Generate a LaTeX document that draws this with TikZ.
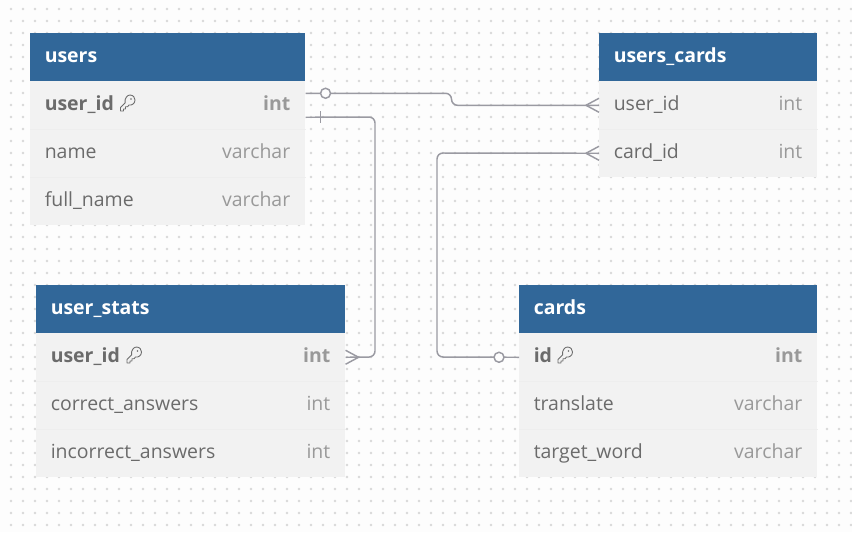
\documentclass[tikz,border=0pt]{standalone}
\usepackage{fontspec}
\setmainfont{Open Sans}
\definecolor{canvas}{RGB}{253,253,253}
\definecolor{griddot}{RGB}{216,216,216}
\definecolor{tablehead}{RGB}{49,103,153}
\definecolor{tablerow}{RGB}{242,242,242}
\definecolor{rowline}{RGB}{238,238,238}
\definecolor{colname}{RGB}{107,107,107}
\definecolor{coltype}{RGB}{153,153,153}
\definecolor{relline}{RGB}{154,154,162}
\tikzset{
  headbox/.style={fill=tablehead, anchor=north west, minimum height=36pt, inner sep=0pt},
  rowbox/.style={fill=tablerow, anchor=north west, minimum height=36pt, inner sep=0pt},
  headtext/.style={text=white, anchor=base west, inner sep=0pt, font=\fontsize{14.6pt}{16pt}\selectfont\bfseries},
  nametext/.style={text=colname, anchor=base west, inner sep=0pt, font=\fontsize{14.6pt}{16pt}\selectfont},
  typetext/.style={text=coltype, anchor=base east, inner sep=0pt, font=\fontsize{14.6pt}{16pt}\selectfont},
  keytext/.style={font=\fontsize{14.6pt}{16pt}\selectfont\bfseries},
  relation/.style={draw=relline, line width=1.1pt, rounded corners=4.5pt},
  relmark/.style={draw=relline, line width=1.1pt},
  optional/.style={circle, draw=relline, fill=canvas, line width=1.1pt, minimum size=7.5pt, inner sep=0pt},
  keyicon/.pic={
    \draw[colname, line width=0.65pt, line join=round] (-7,4.5) -- (-2.4,0) .. controls (-3.2,-5) and (0,-8) .. (2.5,-8) .. controls (6,-8) and (7.5,-5) .. (7.5,-3) .. controls (7.5,0.5) and (4.5,2.5) .. (1.5,2) -- (0,3.8) -- (-2,3.8) -- (-2,6) -- (-4,6) -- (-4,8) -- (-7,8) -- cycle;
    \fill[colname] (3.5,-4) circle[radius=0.6pt];
  }
}
\begin{document}
\begin{tikzpicture}[x=0.75pt, y=-0.75pt]
\useasboundingbox (0,0) rectangle (852,532);
\fill[canvas] (0,0) rectangle (852,532);
\foreach \x in {11,23,...,851}
  \foreach \y in {9,21,...,525}
    \fill[griddot] (\x,\y) circle[radius=1.1pt];

\node[headbox, minimum width=206.25pt] (users_head) at (30,33) {};
\node[rowbox, minimum width=206.25pt] (users_id) at (30,81) {};
\node[rowbox, minimum width=206.25pt] (users_name) at (30,129) {};
\node[rowbox, minimum width=206.25pt] (users_full) at (30,177) {};
\draw[rowline] (users_name.north west) -- (users_name.north east);
\draw[rowline] (users_full.north west) -- (users_full.north east);
\node[headtext] (users_title) at ([shift={(14.5,5)}]users_head.west) {users};
\node[nametext, keytext] (users_id_name) at ([shift={(14.5,5)}]users_id.west) {user\_id};
\node[typetext, keytext] (users_id_type) at ([shift={(-15,5)}]users_id.east) {int};
\node[nametext] (users_name_name) at ([shift={(14.5,5)}]users_name.west) {name};
\node[typetext] (users_name_type) at ([shift={(-15,5)}]users_name.east) {varchar};
\node[nametext] (users_full_name) at ([shift={(14.5,5)}]users_full.west) {full\_name};
\node[typetext] (users_full_type) at ([shift={(-15,5)}]users_full.east) {varchar};
\pic at (127.5,103) {keyicon};

\node[headbox, minimum width=163.5pt] (ucards_head) at (599,33) {};
\node[rowbox, minimum width=163.5pt] (ucards_user) at (599,81) {};
\node[rowbox, minimum width=163.5pt] (ucards_card) at (599,129) {};
\draw[rowline] (ucards_card.north west) -- (ucards_card.north east);
\node[headtext] (ucards_title) at ([shift={(14.5,5)}]ucards_head.west) {users\_cards};
\node[nametext] (ucards_user_name) at ([shift={(14.5,5)}]ucards_user.west) {user\_id};
\node[typetext] (ucards_user_type) at ([shift={(-15,5)}]ucards_user.east) {int};
\node[nametext] (ucards_card_name) at ([shift={(14.5,5)}]ucards_card.west) {card\_id};
\node[typetext] (ucards_card_type) at ([shift={(-15,5)}]ucards_card.east) {int};

\node[headbox, minimum width=231.75pt] (stats_head) at (36,285) {};
\node[rowbox, minimum width=231.75pt] (stats_id) at (36,333) {};
\node[rowbox, minimum width=231.75pt] (stats_correct) at (36,381) {};
\node[rowbox, minimum width=231.75pt] (stats_wrong) at (36,429) {};
\draw[rowline] (stats_correct.north west) -- (stats_correct.north east);
\draw[rowline] (stats_wrong.north west) -- (stats_wrong.north east);
\node[headtext] (stats_title) at ([shift={(14.5,5)}]stats_head.west) {user\_stats};
\node[nametext, keytext] (stats_id_name) at ([shift={(14.5,5)}]stats_id.west) {user\_id};
\node[typetext, keytext] (stats_id_type) at ([shift={(-15,5)}]stats_id.east) {int};
\node[nametext] (stats_correct_name) at ([shift={(14.5,5)}]stats_correct.west) {correct\_answers};
\node[typetext] (stats_correct_type) at ([shift={(-15,5)}]stats_correct.east) {int};
\node[nametext] (stats_wrong_name) at ([shift={(14.5,5)}]stats_wrong.west) {incorrect\_answers};
\node[typetext] (stats_wrong_type) at ([shift={(-15,5)}]stats_wrong.east) {int};
\pic at (134,355) {keyicon};

\node[headbox, minimum width=223.5pt] (cards_head) at (519,285) {};
\node[rowbox, minimum width=223.5pt] (cards_id) at (519,333) {};
\node[rowbox, minimum width=223.5pt] (cards_translate) at (519,381) {};
\node[rowbox, minimum width=223.5pt] (cards_target) at (519,429) {};
\draw[rowline] (cards_translate.north west) -- (cards_translate.north east);
\draw[rowline] (cards_target.north west) -- (cards_target.north east);
\node[headtext] (cards_title) at ([shift={(14.5,5)}]cards_head.west) {cards};
\node[nametext, keytext] (cards_id_name) at ([shift={(14.5,5)}]cards_id.west) {id};
\node[typetext, keytext] (cards_id_type) at ([shift={(-15,5)}]cards_id.east) {int};
\node[nametext] (cards_translate_name) at ([shift={(14.5,5)}]cards_translate.west) {translate};
\node[typetext] (cards_translate_type) at ([shift={(-15,5)}]cards_translate.east) {varchar};
\node[nametext] (cards_target_name) at ([shift={(14.5,5)}]cards_target.west) {target\_word};
\node[typetext] (cards_target_type) at ([shift={(-15,5)}]cards_target.east) {varchar};
\pic at (565,355) {keyicon};

\coordinate (users_cards_out) at ([yshift=9pt]users_id.east);
\coordinate (users_stats_out) at ([yshift=-9pt]users_id.east);
\draw[relation] (users_cards_out) -- ++(146,0) -- ++(0,12) -- (ucards_user.west);
\draw[relation] (users_stats_out) -- (375,117) -- (375,357) -- (stats_id.east);
\draw[relation] (ucards_card.west) -- (437,153) -- (437,357) -- (cards_id.west);
\node[optional] (users_cards_opt) at ([xshift=15pt]users_cards_out) {};
\node[optional] (cards_opt) at ([xshift=-15pt]cards_id.west) {};
\draw[relmark] ([shift={(15,-6)}]users_stats_out) -- ++(0,12);
\draw[relmark] ([shift={(-13,0)}]ucards_user.west) -- ([yshift=5.25pt]ucards_user.west);
\draw[relmark] ([shift={(-13,0)}]ucards_user.west) -- ([yshift=-5.25pt]ucards_user.west);
\draw[relmark] ([shift={(-13,0)}]ucards_card.west) -- ([yshift=5.25pt]ucards_card.west);
\draw[relmark] ([shift={(-13,0)}]ucards_card.west) -- ([yshift=-5.25pt]ucards_card.west);
\draw[relmark] ([shift={(13,0)}]stats_id.east) -- ([yshift=5.25pt]stats_id.east);
\draw[relmark] ([shift={(13,0)}]stats_id.east) -- ([yshift=-5.25pt]stats_id.east);
\end{tikzpicture}
\end{document}
